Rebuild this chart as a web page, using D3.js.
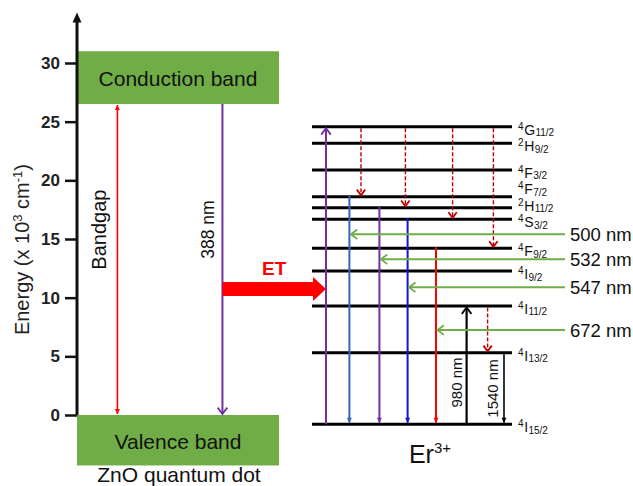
<!DOCTYPE html>
<html><head><meta charset="utf-8">
<script src="https://cdn.jsdelivr.net/npm/d3@7"></script>
<style>
html,body{margin:0;padding:0;background:#fff;}
svg{display:block;font-family:"Liberation Sans",Arial,Helvetica,sans-serif;}
</style></head><body>
<svg id="chart" width="633" height="486"></svg>
<script>
// ---- Energy axis (units of 10^3 cm^-1) ----
const yTicks = [0, 5, 10, 15, 20, 25, 30];
const axisTop = 34.3;

// ---- ZnO quantum dot bands ----
const bandNames = ["Conduction band", "Valence band"];
const bandHigh = [31.0, 0];
const bandLow = [26.5, -4.3];
const bandgapCol = 0.2;          // position inside the band block (0..1)
const excitationCol = 0.72;
const zno = { bandgap: "Bandgap", excitation: "388 nm", host: "ZnO quantum dot", labelEnergy: 15.8 };

// ---- Er3+ energy levels ----
const levelSup = ["4", "2", "4", "4", "2", "4", "4", "4", "4", "4", "4"];
const levelTerm = ["G", "H", "F", "F", "H", "S", "F", "I", "I", "I", "I"];
const levelSub = ["11/2", "9/2", "3/2", "7/2", "11/2", "3/2", "9/2", "9/2", "11/2", "13/2", "15/2"];
const levelEnergy = [24.57, 23.16, 20.88, 18.6, 17.67, 16.68, 14.21, 12.27, 9.29, 5.31, -0.79];

// ---- Er3+ transitions: level indices, column (0..1 across the level lines) ----
const absorbFrom = 10, absorbTo = 0, absorbCol = 0.07;
const emitFrom = [3, 4, 5, 6];
const emitCol = [0.187, 0.337, 0.478, 0.62];
const emitColor = ["#3366bb", "#7030a0", "#1414d2", "#ff0000"];
const relaxFrom = [0, 0, 0, 0, 8];
const relaxTo = [3, 4, 5, 6, 9];
const relaxCol = [0.245, 0.467, 0.703, 0.907, 0.878];
const irLabel = ["980 nm", "1540 nm"];
const irFrom = [10, 9];
const irTo = [8, 10];
const irCol = [0.773, 0.96];

// ---- Observed emission wavelengths ----
const emissionNm = ["500 nm", "532 nm", "547 nm", "672 nm"];
const emissionEnergy = [15.40, 13.27, 10.88, 7.24];
const emissionTail = 1.265;

// ---- Energy transfer ----
const etLabel = "ET";
const etEnergy = 10.74;

const svg = d3.select("#chart");
svg.append("rect").attr("width", 633).attr("height", 486).attr("fill", "#fff");

const y = d3.scaleLinear().domain([0, 30]).range([415, 63]);
const xZn = d3.scaleLinear().domain([0, 1]).range([77, 279]);
const xEr = d3.scaleLinear().domain([0, 1]).range([312, 512]);

const GREEN = "#70ad47";
const DASHRED = "#c00000";

// arrowhead markers
const defs = svg.append("defs");
function marker(id, color, type, size, orient) {
  const s = size || 6;
  const m = defs.append("marker").attr("id", id)
    .attr("markerUnits", "userSpaceOnUse")
    .attr("orient", orient || "auto")
    .attr("overflow", "visible")
    .attr("markerWidth", s + 2).attr("markerHeight", s + 2)
    .attr("viewBox", `0 0 ${s + 2} ${s + 2}`);
  if (type === "tri") {
    m.attr("refX", s).attr("refY", s / 2);
    m.append("path").attr("d", `M0,0 L${s},${s / 2} L0,${s} Z`).attr("fill", color);
  } else {
    m.attr("refX", s * 0.8).attr("refY", s * 0.6);
    m.append("path").attr("d", `M0,0 L${s * 0.8},${s * 0.6} L0,${s * 1.2}`)
      .attr("fill", "none").attr("stroke", color).attr("stroke-width", 1.8);
  }
  return `url(#${id})`;
}

// ---- ZnO bands ----
bandNames.forEach((name, i) => {
  svg.append("rect")
    .attr("x", xZn(0)).attr("width", xZn(1) - xZn(0))
    .attr("y", y(bandHigh[i])).attr("height", y(bandLow[i]) - y(bandHigh[i]))
    .attr("fill", GREEN);
  svg.append("text")
    .attr("x", xZn(0.5)).attr("y", (y(bandHigh[i]) + y(bandLow[i])) / 2 + 8.5)
    .attr("text-anchor", "middle").attr("font-size", 21).attr("fill", "#111")
    .text(name);
});
svg.append("text")
  .attr("x", xZn(0.505)).attr("y", y(bandLow[1]) + 17)
  .attr("text-anchor", "middle").attr("font-size", 21).attr("fill", "#111")
  .text(zno.host);

// ---- Energy axis ----
const axisG = svg.append("g").attr("transform", `translate(${xZn(0)},0)`)
  .call(d3.axisLeft(y).tickValues(yTicks).tickSize(12).tickPadding(5));
axisG.select(".domain").remove();
axisG.selectAll(".tick line").attr("stroke", "#111").attr("stroke-width", 2.5);
axisG.selectAll(".tick text").attr("font-size", 17).attr("font-weight", "bold")
  .attr("fill", "#222").attr("font-family", "'Liberation Sans',Arial,sans-serif");
svg.append("line")
  .attr("x1", xZn(0)).attr("x2", xZn(0))
  .attr("y1", y(0)).attr("y2", y(axisTop) + 6)
  .attr("stroke", "#111").attr("stroke-width", 3);
svg.append("path")
  .attr("d", `M${xZn(0)},${y(axisTop)} L${xZn(0) + 4.5},${y(axisTop) + 10} L${xZn(0) - 4.5},${y(axisTop) + 10} Z`)
  .attr("fill", "#111");
svg.append("text")
  .attr("transform", `translate(29,${y(14.1)}) rotate(-90)`)
  .attr("text-anchor", "middle").attr("font-size", 20).attr("fill", "#222")
  .call(t => {
    t.append("tspan").text("Energy (x 10");
    t.append("tspan").attr("dy", -7).attr("font-size", 13).text("3");
    t.append("tspan").attr("dy", 7).text(" cm");
    t.append("tspan").attr("dy", -7).attr("font-size", 13).text("-1");
    t.append("tspan").attr("dy", 7).text(")");
  });

// ---- ZnO transitions ----
svg.append("line")
  .attr("x1", xZn(bandgapCol)).attr("x2", xZn(bandgapCol))
  .attr("y1", y(0) - 1).attr("y2", y(bandLow[0]) + 1)
  .attr("stroke", "#ff0000").attr("stroke-width", 1.6)
  .attr("marker-start", marker("triRedStart", "#ff0000", "tri", 5, "auto-start-reverse"))
  .attr("marker-end", marker("triRedEnd", "#ff0000", "tri", 5));

svg.append("line")
  .attr("x1", xZn(excitationCol)).attr("x2", xZn(excitationCol))
  .attr("y1", y(bandLow[0])).attr("y2", y(0) - 1)
  .attr("stroke", "#7030a0").attr("stroke-width", 2)
  .attr("marker-end", marker("chevPurpleZ", "#7030a0", "chev", 8));

svg.append("text")
  .attr("transform", `translate(${xZn(bandgapCol) - 11},${y(zno.labelEnergy)}) rotate(-90)`)
  .attr("text-anchor", "middle").attr("font-size", 20).attr("fill", "#111")
  .text(zno.bandgap);
svg.append("text")
  .attr("transform", `translate(${xZn(excitationCol) - 8},${y(zno.labelEnergy)}) rotate(-90)`)
  .attr("text-anchor", "middle").attr("font-size", 17.5).attr("fill", "#111")
  .text(zno.excitation);

// ---- Er3+ level lines ----
svg.selectAll(".level").data(levelEnergy).join("line")
  .attr("class", "level")
  .attr("x1", xEr(0)).attr("x2", xEr(1))
  .attr("y1", d => y(d)).attr("y2", d => y(d))
  .attr("stroke", "#000").attr("stroke-width", 3);

// level labels: stacked upward so crowded levels keep apart
const order = d3.range(levelEnergy.length).sort((a, b) => levelEnergy[a] - levelEnergy[b]);
const labelCenter = [];
let prev = Infinity;
order.forEach(i => {
  const c = Math.min(y(levelEnergy[i]) + 3, prev - 16.5);
  labelCenter[i] = c;
  prev = c;
});
levelEnergy.forEach((e, i) => {
  const base = labelCenter[i] + 5;
  let x0 = xEr(1) + 6;
  const sup = svg.append("text").attr("class", "lvl-sup")
    .attr("x", x0).attr("y", base - 5)
    .attr("font-size", 10).attr("fill", "#111").text(levelSup[i]);
  x0 += sup.node().getComputedTextLength() + 0.6;
  const term = svg.append("text").attr("class", "lvl-term")
    .attr("x", x0).attr("y", base)
    .attr("font-size", 14).attr("fill", "#111").text(levelTerm[i]);
  x0 += term.node().getComputedTextLength() + 0.4;
  svg.append("text").attr("class", "lvl-sub")
    .attr("x", x0).attr("y", base + 1.5)
    .attr("font-size", 10).attr("fill", "#111").text(levelSub[i]);
});

// absorption (up) arrow
svg.append("line")
  .attr("x1", xEr(absorbCol)).attr("x2", xEr(absorbCol))
  .attr("y1", y(levelEnergy[absorbFrom])).attr("y2", y(levelEnergy[absorbTo]) + 1.5)
  .attr("stroke", "#7030a0").attr("stroke-width", 2)
  .attr("marker-end", marker("chevPurpleUp", "#7030a0", "chev", 8));

// radiative emissions to the ground level
emitFrom.forEach((f, i) => {
  svg.append("line")
    .attr("x1", xEr(emitCol[i])).attr("x2", xEr(emitCol[i]))
    .attr("y1", y(levelEnergy[f]) - 1).attr("y2", y(levelEnergy[10]) - 1.5)
    .attr("stroke", emitColor[i]).attr("stroke-width", 2)
    .attr("marker-end", marker("triEmit" + i, emitColor[i], "tri", 5));
});

// non-radiative relaxation (dashed)
const chevDash = marker("chevDash", DASHRED, "chev", 7);
relaxFrom.forEach((f, i) => {
  svg.append("line")
    .attr("x1", xEr(relaxCol[i])).attr("x2", xEr(relaxCol[i]))
    .attr("y1", y(levelEnergy[f]) + 1.5).attr("y2", y(levelEnergy[relaxTo[i]]) - 1.5)
    .attr("stroke", DASHRED).attr("stroke-width", 1.4)
    .attr("stroke-dasharray", "4,2")
    .attr("marker-end", chevDash);
});

// 980 nm absorption and 1540 nm emission
irFrom.forEach((f, i) => {
  const up = levelEnergy[irTo[i]] > levelEnergy[f];
  const y1 = y(levelEnergy[f]) + (up ? 0 : 1.5);
  const y2 = y(levelEnergy[irTo[i]]) + (up ? 1.5 : -1.5);
  svg.append("line")
    .attr("x1", xEr(irCol[i])).attr("x2", xEr(irCol[i]))
    .attr("y1", y1).attr("y2", y2)
    .attr("stroke", "#000").attr("stroke-width", up ? 2.2 : 1.6)
    .attr("marker-end", up ? marker("chevBlack", "#000", "chev", 8) : marker("triBlack", "#000", "tri", 5));
  const mid = (y(levelEnergy[9]) + y(levelEnergy[10])) / 2 - (up ? 6 : 0);
  svg.append("text")
    .attr("transform", `translate(${xEr(irCol[i]) - (up ? 4.5 : 6)},${mid}) rotate(-90)`)
    .attr("text-anchor", "middle").attr("font-size", 15).attr("fill", "#111")
    .text(irLabel[i]);
});

// observed emission bands (green arrows pointing at the matching transition)
const chevGreen = marker("chevGreen", GREEN, "chev", 8);
emissionNm.forEach((nm, i) => {
  const yy = y(emissionEnergy[i]);
  svg.append("line")
    .attr("x1", xEr(emissionTail)).attr("x2", xEr(emitCol[i]) + 1.5)
    .attr("y1", yy).attr("y2", yy)
    .attr("stroke", GREEN).attr("stroke-width", 2)
    .attr("marker-end", chevGreen);
  svg.append("text")
    .attr("x", xEr(emissionTail) + 5).attr("y", yy + 6.5)
    .attr("font-size", 18.5).attr("fill", "#111")
    .text(nm);
});

// ---- Energy transfer arrow ----
const ex0 = xZn(excitationCol), ex1 = xEr(absorbCol), ey = y(etEnergy);
svg.append("path")
  .attr("d", `M${ex0},${ey - 7} L${ex1 - 13},${ey - 7} L${ex1 - 13},${ey - 12} L${ex1},${ey} ` +
             `L${ex1 - 13},${ey + 12} L${ex1 - 13},${ey + 7} L${ex0},${ey + 7} Z`)
  .attr("fill", "#ff0000");
svg.append("text")
  .attr("x", (ex0 + ex1) / 2).attr("y", ey - 14)
  .attr("text-anchor", "middle").attr("font-size", 19).attr("font-weight", "bold")
  .attr("fill", "#ff0000").text(etLabel);

// ---- Er3+ caption ----
svg.append("text")
  .attr("x", xEr(0.59)).attr("y", y(levelEnergy[10]) + 39)
  .attr("text-anchor", "middle").attr("font-size", 25).attr("fill", "#111")
  .call(t => {
    t.append("tspan").text("Er");
    t.append("tspan").attr("dy", -10).attr("font-size", 15).text("3+");
  });
</script>
</body></html>
